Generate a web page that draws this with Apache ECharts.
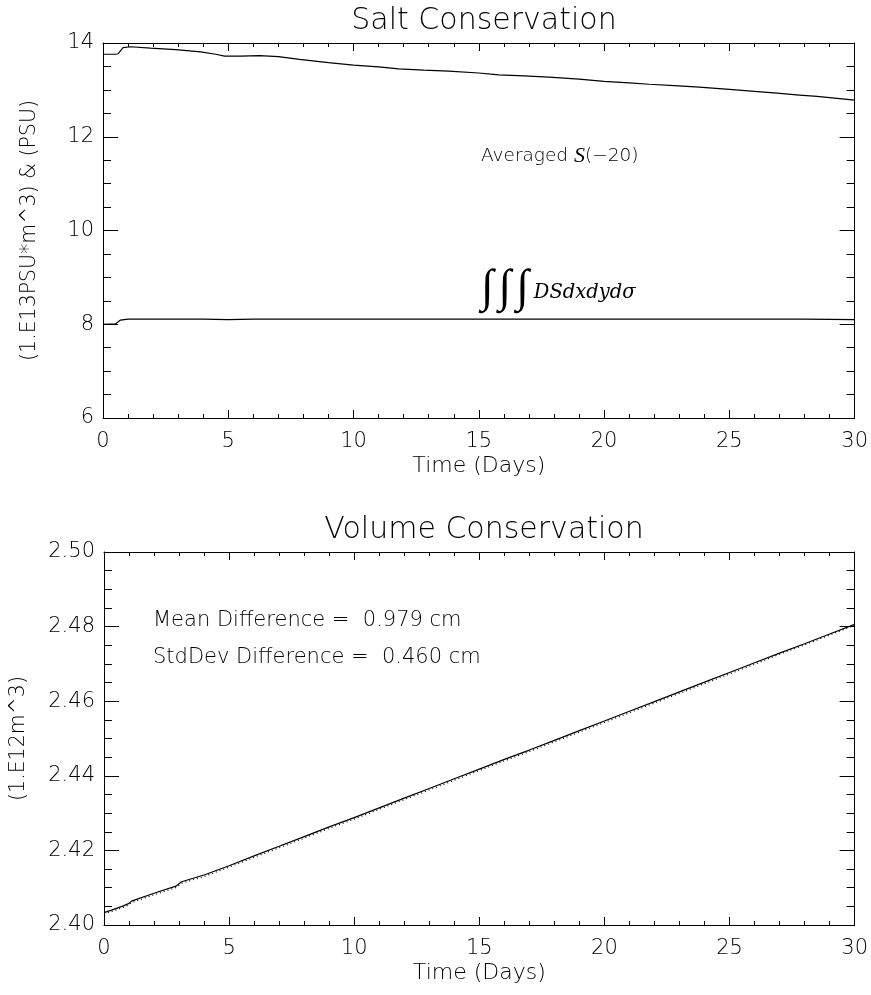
<!DOCTYPE html>
<html>
<head>
<meta charset="utf-8">
<script src="https://cdn.jsdelivr.net/npm/echarts@6/dist/echarts.min.js"></script>
<style>
html,body{margin:0;padding:0;background:#fff;}
#c{width:871px;height:995px;}
</style>
</head>
<body>
<div id="c"></div>
<script>
// ---------- Data ----------
const saltTitle = "Salt Conservation";
const volTitle = "Volume Conservation";
const xName = "Time (Days)";
const saltYName = "(1.E13PSU*m^3) & (PSU)";
const volYName = "(1.E12m^3)";

// Averaged S(-20)
const avgDays = [0, 0.5, 0.6, 0.8, 1.1, 1.9, 2.9, 3.9, 4.5, 4.85, 5.5, 6.25, 7.0, 7.84, 9.0, 10.0, 11.0, 11.8, 12.8, 13.8, 15.0, 15.8, 16.8, 17.8, 19.0, 20.0, 21.0, 21.8, 22.8, 23.8, 25.0, 26.0, 26.9, 27.8, 28.5, 29.3, 30];
const avgVals = [13.76, 13.76, 13.77, 13.90, 13.92, 13.89, 13.86, 13.81, 13.76, 13.72, 13.72, 13.73, 13.71, 13.65, 13.58, 13.53, 13.49, 13.45, 13.42, 13.40, 13.36, 13.32, 13.30, 13.27, 13.23, 13.18, 13.15, 13.12, 13.09, 13.06, 13.01, 12.97, 12.93, 12.89, 12.86, 12.82, 12.78];

// Integral of DS
const intDays = [0, 0.5, 0.7, 1.0, 2, 3, 4, 5, 6, 8, 10, 12, 15, 18, 20, 22, 25, 28, 30];
const intVals = [8.00, 8.01, 8.09, 8.11, 8.11, 8.11, 8.11, 8.10, 8.11, 8.11, 8.11, 8.11, 8.11, 8.11, 8.11, 8.11, 8.11, 8.11, 8.10];

// Volume (solid and dotted)
const volDays = [0, 0.3, 0.8, 1.0, 1.1, 2.0, 2.9, 3.1, 4.0, 5.0, 6.1, 7, 8, 9, 10, 11, 12, 13, 14, 15, 16, 17, 18, 19, 20, 21, 22, 23, 24, 25, 26, 27, 28, 29, 30];
const volSolid = [2.4033, 2.4040, 2.4052, 2.4058, 2.4064, 2.4085, 2.4105, 2.4116, 2.4134, 2.4159, 2.4188, 2.4211, 2.4237, 2.4263, 2.4288, 2.4314, 2.4340, 2.4366, 2.4392, 2.4418, 2.4444, 2.4469, 2.4495, 2.4521, 2.4547, 2.4573, 2.4599, 2.4625, 2.4651, 2.4677, 2.4703, 2.4729, 2.4754, 2.4780, 2.4806];
const volDotted = [2.4030, 2.4036, 2.4048, 2.4054, 2.4060, 2.4081, 2.4101, 2.4112, 2.4130, 2.4155, 2.4184, 2.4207, 2.4233, 2.4259, 2.4284, 2.4310, 2.4336, 2.4362, 2.4388, 2.4414, 2.4440, 2.4465, 2.4491, 2.4517, 2.4543, 2.4569, 2.4595, 2.4621, 2.4647, 2.4673, 2.4699, 2.4726, 2.4751, 2.4777, 2.4804];

const xTicks = [0, 5, 10, 15, 20, 25, 30];
const saltYTicks = [6, 8, 10, 12, 14];
const volYTicks = [2.40, 2.42, 2.44, 2.46, 2.48, 2.50];

const meanText = "Mean Difference =  0.979 cm";
const stdText = "StdDev Difference =  0.460 cm";

// ---------- Chart ----------
const FONT = "DejaVu Sans";
const FW = 200;
const pair = (xs, ys) => xs.map((x, i) => [x, ys[i]]);

function xAx(grid, pos, labels, name) {
  return {
    type: 'value', gridIndex: grid, position: pos,
    min: xTicks[0], max: xTicks[xTicks.length - 1], interval: 5,
    axisLine: {show: true, onZero: false, lineStyle: {color: '#000', width: 1}},
    axisTick: {show: true, inside: true, length: 8, lineStyle: {color: '#000'}},
    minorTick: {show: true, splitNumber: 5, length: 4, lineStyle: {color: '#000'}},
    splitLine: {show: false},
    axisLabel: {show: labels, margin: 13, color: '#000', fontFamily: FONT, fontWeight: FW, fontSize: 21},
    name: name || '', nameLocation: 'middle', nameGap: 37,
    nameTextStyle: {color: '#000', fontFamily: FONT, fontWeight: FW, fontSize: 22}
  };
}
function yAx(grid, pos, labels, min, max, interval, name, gap, fmt) {
  return {
    type: 'value', gridIndex: grid, position: pos,
    min: min, max: max, interval: interval,
    axisLine: {show: true, onZero: false, lineStyle: {color: '#000', width: 1}},
    axisTick: {show: true, inside: true, length: 15, lineStyle: {color: '#000'}},
    minorTick: {show: true, splitNumber: 4, length: 8, lineStyle: {color: '#000'}},
    splitLine: {show: false},
    axisLabel: {show: labels, margin: 9, color: '#000', fontFamily: FONT, fontWeight: FW, fontSize: 21, formatter: fmt},
    name: name || '', nameLocation: 'middle', nameGap: gap || 0,
    nameTextStyle: {color: '#000', fontFamily: FONT, fontWeight: FW, fontSize: 20.5}
  };
}

const chart = echarts.init(document.getElementById('c'), null, {renderer: 'canvas'});
chart.setOption({
  backgroundColor: '#fff',
  animation: false,
  title: [
    {text: saltTitle, left: 479, top: 1, textAlign: 'center',
     textStyle: {color: '#000', fontFamily: FONT, fontWeight: FW, fontSize: 30}},
    {text: volTitle, left: 479, top: 510, textAlign: 'center',
     textStyle: {color: '#000', fontFamily: FONT, fontWeight: FW, fontSize: 30}}
  ],
  grid: [
    {left: 103, top: 43, width: 754, height: 375},
    {left: 103, top: 552, width: 754, height: 373}
  ],
  xAxis: [
    xAx(0, 'bottom', true, xName),
    xAx(0, 'top', false),
    xAx(1, 'bottom', true, xName),
    xAx(1, 'top', false)
  ],
  yAxis: [
    yAx(0, 'left', true, 6, 14, 2, saltYName, 63, v => String(v)),
    yAx(0, 'right', false, 6, 14, 2),
    yAx(1, 'left', true, 2.40, 2.50, 0.02, volYName, 75, v => v.toFixed(2)),
    yAx(1, 'right', false, 2.40, 2.50, 0.02)
  ],
  series: [
    {type: 'line', xAxisIndex: 0, yAxisIndex: 0, data: pair(avgDays, avgVals), showSymbol: false,
     lineStyle: {color: '#000', width: 1.2}},
    {type: 'line', xAxisIndex: 0, yAxisIndex: 0, data: pair(intDays, intVals), showSymbol: false,
     lineStyle: {color: '#000', width: 1.2}},
    {type: 'line', xAxisIndex: 2, yAxisIndex: 2, data: pair(volDays, volDotted), showSymbol: false,
     lineStyle: {color: '#000', width: 1.2, type: [1, 3]}},
    {type: 'line', xAxisIndex: 2, yAxisIndex: 2, data: pair(volDays, volSolid), showSymbol: false,
     lineStyle: {color: '#000', width: 1.2}}
  ],
  graphic: [
    {type: 'text', left: 481, top: 145, style: {
      text: '{a|Averaged }{s|S}{a|(−20)}',
      rich: {
        a: {fontFamily: FONT, fontWeight: FW, fontSize: 18.5, fill: '#000'},
        s: {fontFamily: 'Liberation Serif', fontStyle: 'italic', fontSize: 22, fill: '#000'}
      }}},
    {type: 'text', left: 481, top: 266, style: {
      text: '{i|∫}{i|∫}{i|∫}{d|DSdxdydσ}',
      rich: {
        i: {fontFamily: 'Liberation Serif', fontSize: 46, fill: '#000', verticalAlign: 'bottom', padding: [0, 5, 0, 0]},
        d: {fontFamily: 'DejaVu Serif', fontStyle: 'italic', fontSize: 19.5, fill: '#000', verticalAlign: 'bottom', padding: [0, 0, 9, 0]}
      }}},
    {type: 'text', left: 153, top: 610, style: {text: meanText, fontFamily: FONT, fontWeight: FW, fontSize: 21, fill: '#000'}},
    {type: 'text', left: 153, top: 647, style: {text: stdText, fontFamily: FONT, fontWeight: FW, fontSize: 21, fill: '#000'}}
  ]
});
</script>
</body>
</html>
